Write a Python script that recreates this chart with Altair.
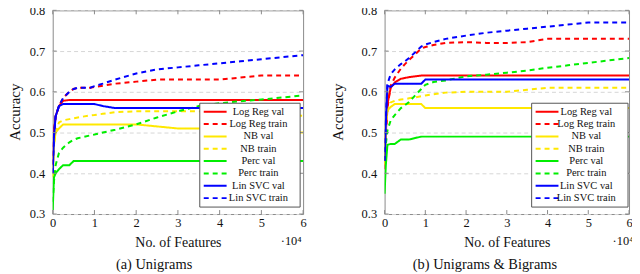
import altair as alt
import pandas as pd

# number of features (x values, shared by all series)
FEATURES = [0, 300, 700, 1500, 2500, 4000, 5000, 6000, 9000, 10000, 12000, 15000,
            20000, 25000, 30000, 35000, 40000, 45000, 50000, 55000, 60000]

SERIES = ["Log Reg val", "Log Reg train", "NB val", "NB train",
          "Perc val", "Perc train", "Lin SVC val", "Lin SVC train"]

# (a) Unigrams
UNI_LR_VAL = [0.42, 0.50, 0.54, 0.565, 0.578, 0.58, 0.58, 0.58, 0.58, 0.58, 0.58, 0.58,
              0.58, 0.58, 0.58, 0.58, 0.58, 0.58, 0.58, 0.58, 0.58]
UNI_LR_TRAIN = [0.42, 0.50, 0.54, 0.565, 0.585, 0.60, 0.607, 0.61, 0.61, 0.612, 0.615, 0.62,
                0.625, 0.63, 0.63, 0.63, 0.63, 0.635, 0.64, 0.64, 0.64]
UNI_NB_VAL = [0.39, 0.47, 0.50, 0.51, 0.52, 0.52, 0.52, 0.52, 0.52, 0.52, 0.52, 0.52,
              0.52, 0.515, 0.51, 0.51, 0.51, 0.51, 0.505, 0.50, 0.50]
UNI_NB_TRAIN = [0.39, 0.47, 0.50, 0.525, 0.53, 0.533, 0.535, 0.537, 0.542, 0.543, 0.546, 0.55,
                0.552, 0.552, 0.552, 0.552, 0.55, 0.55, 0.547, 0.543, 0.541]
UNI_PERC_VAL = [0.31, 0.39, 0.40, 0.41, 0.42, 0.42, 0.43, 0.43, 0.43, 0.43, 0.43, 0.43,
                0.43, 0.43, 0.43, 0.43, 0.43, 0.43, 0.43, 0.43, 0.43]
UNI_PERC_TRAIN = [0.33, 0.38, 0.42, 0.45, 0.463, 0.476, 0.482, 0.486, 0.493, 0.495, 0.50, 0.507,
                  0.52, 0.537, 0.552, 0.565, 0.572, 0.577, 0.581, 0.586, 0.591]
UNI_SVC_VAL = [0.40, 0.49, 0.54, 0.565, 0.57, 0.57, 0.57, 0.57, 0.57, 0.57, 0.565, 0.56,
               0.56, 0.56, 0.56, 0.56, 0.56, 0.56, 0.56, 0.56, 0.56]
UNI_SVC_TRAIN = [0.40, 0.49, 0.54, 0.565, 0.585, 0.60, 0.607, 0.61, 0.61, 0.614, 0.62, 0.63,
                 0.645, 0.655, 0.66, 0.665, 0.67, 0.675, 0.68, 0.685, 0.69]

# (b) Unigrams & Bigrams
BI_LR_VAL = [0.42, 0.50, 0.57, 0.61, 0.623, 0.632, 0.634, 0.636, 0.64, 0.64, 0.64, 0.64,
             0.64, 0.64, 0.64, 0.64, 0.64, 0.64, 0.64, 0.64, 0.64]
BI_LR_TRAIN = [0.41, 0.49, 0.56, 0.615, 0.635, 0.657, 0.668, 0.678, 0.706, 0.71, 0.715, 0.72,
               0.722, 0.72, 0.72, 0.722, 0.73, 0.73, 0.73, 0.73, 0.73]
BI_NB_VAL = [0.42, 0.53, 0.555, 0.563, 0.57, 0.57, 0.57, 0.57, 0.57, 0.56, 0.56, 0.56,
             0.56, 0.56, 0.56, 0.56, 0.56, 0.56, 0.56, 0.56, 0.56]
BI_NB_TRAIN = [0.42, 0.52, 0.55, 0.574, 0.578, 0.581, 0.582, 0.584, 0.589, 0.591, 0.594, 0.598,
               0.60, 0.60, 0.60, 0.605, 0.61, 0.61, 0.61, 0.61, 0.61]
BI_PERC_VAL = [0.35, 0.42, 0.47, 0.472, 0.472, 0.483, 0.483, 0.483, 0.49, 0.49, 0.49, 0.49,
               0.49, 0.49, 0.49, 0.49, 0.49, 0.49, 0.49, 0.49, 0.49]
BI_PERC_TRAIN = [0.43, 0.47, 0.505, 0.53, 0.543, 0.56, 0.567, 0.575, 0.607, 0.617, 0.624, 0.628,
                 0.638, 0.642, 0.647, 0.652, 0.659, 0.665, 0.671, 0.677, 0.683]
BI_SVC_VAL = [0.43, 0.52, 0.615, 0.612, 0.62, 0.62, 0.62, 0.62, 0.62, 0.63, 0.63, 0.63,
              0.63, 0.63, 0.63, 0.63, 0.63, 0.63, 0.63, 0.63, 0.63]
BI_SVC_TRAIN = [0.43, 0.53, 0.62, 0.643, 0.655, 0.668, 0.675, 0.683, 0.711, 0.716, 0.722, 0.73,
                0.738, 0.745, 0.75, 0.755, 0.76, 0.765, 0.77, 0.77, 0.77]

UNI = [UNI_LR_VAL, UNI_LR_TRAIN, UNI_NB_VAL, UNI_NB_TRAIN,
       UNI_PERC_VAL, UNI_PERC_TRAIN, UNI_SVC_VAL, UNI_SVC_TRAIN]
BI = [BI_LR_VAL, BI_LR_TRAIN, BI_NB_VAL, BI_NB_TRAIN,
      BI_PERC_VAL, BI_PERC_TRAIN, BI_SVC_VAL, BI_SVC_TRAIN]

X_TICKS = [0, 10000, 20000, 30000, 40000, 50000, 60000]
Y_TICKS = [0.3, 0.4, 0.5, 0.6, 0.7, 0.8]
CAPTIONS = ["(a) Unigrams", "(b) Unigrams & Bigrams"]
X_TITLE = "No. of Features"
Y_TITLE = "Accuracy"
POWER = "·10⁴"

COLORS = ["#ff0000", "#ff0000", "#ffe800", "#ffe800",
          "#00ee00", "#00ee00", "#0000ff", "#0000ff"]
DASHES = [[1, 0], [5, 4], [1, 0], [5, 4], [1, 0], [5, 4], [1, 0], [5, 4]]

FONT = "Liberation Serif"
FRAME = "#8a8a8a"
TXT = "#111111"
H = 205


def label(text, size, xpos, ypos, angle=0):
    return alt.Chart(pd.DataFrame({"t": [text]})).mark_text(
        font=FONT, fontSize=size, align="center", baseline="middle", color=TXT, angle=angle
    ).encode(x=alt.value(xpos), y=alt.value(ypos), text="t:N")


def panel(values, caption, W, ytitle_x, leg_x0, leg_x1, sample_x0, text_x, caption_x, power_x):
    rows = []
    for s, ys in zip(SERIES, values):
        for f, v in zip(FEATURES, ys):
            rows.append({"features": f, "acc": v, "series": s})
    df = pd.DataFrame(rows)

    color = alt.Color("series:N", scale=alt.Scale(domain=SERIES, range=COLORS), legend=None)
    dash = alt.StrokeDash("series:N", scale=alt.Scale(domain=SERIES, range=DASHES), legend=None)
    x = alt.X("features:Q", scale=alt.Scale(domain=[0, 60000], nice=False, zero=False),
              axis=alt.Axis(values=X_TICKS, labelExpr="datum.value / 10000", title=X_TITLE,
                            grid=False, ticks=False, domain=False, labelPadding=3,
                            titlePadding=6, labelFlush=False,
                            labelFont=FONT, labelFontSize=12.5, labelColor=TXT,
                            titleFont=FONT, titleFontSize=14, titleFontWeight="normal",
                            titleColor=TXT))
    y = alt.Y("acc:Q", scale=alt.Scale(domain=[0.3, 0.8], nice=False, zero=False),
              axis=alt.Axis(values=Y_TICKS, format=".1f", title=None, grid=True,
                            gridDash=[4, 3], gridColor="#d6d6d6", ticks=False, domain=False,
                            labelPadding=8,
                            labelFont=FONT, labelFontSize=12.5, labelColor=TXT))

    layers = []
    for s in SERIES:
        layers.append(
            alt.Chart(df).transform_filter(alt.datum.series == s)
            .mark_line(strokeWidth=2, clip=True)
            .encode(x=x, y=y, color=color, strokeDash=dash)
        )
    xt = pd.DataFrame({"features": X_TICKS})
    yt = pd.DataFrame({"acc": Y_TICKS})
    layers.append(alt.Chart(xt).mark_rule(color=FRAME).encode(x=x, y=alt.value(H), y2=alt.value(H - 4)))
    layers.append(alt.Chart(xt).mark_rule(color=FRAME).encode(x=x, y=alt.value(0), y2=alt.value(4)))
    layers.append(alt.Chart(yt).mark_rule(color=FRAME).encode(y=y, x=alt.value(0), x2=alt.value(4)))
    layers.append(alt.Chart(yt).mark_rule(color=FRAME).encode(y=y, x=alt.value(W - 4), x2=alt.value(W)))
    plot = alt.layer(*layers)

    leg_df = pd.DataFrame({"series": SERIES, "row": list(range(len(SERIES)))})
    ly = alt.Y("row:Q", scale=alt.Scale(domain=[0, 7], range=[102, 189]), axis=None)
    box = alt.Chart(leg_df.head(1)).mark_rect(fill="white", stroke="#555", strokeWidth=1).encode(
        x=alt.value(leg_x0), x2=alt.value(leg_x1), y=alt.value(93.5), y2=alt.value(198))
    samples = alt.Chart(leg_df).mark_rule(strokeWidth=2).encode(
        x=alt.value(sample_x0), x2=alt.value(sample_x0 + 23), y=ly, color=color, strokeDash=dash)
    texts = alt.Chart(leg_df).mark_text(font=FONT, fontSize=10.5, align="center", baseline="middle",
                                        color=TXT).encode(x=alt.value(text_x), y=ly, text="series:N")
    legend = alt.layer(box, samples, texts)

    cap = label(caption, 14.5, caption_x, 256)
    pw = label(POWER, 12.5, power_x, 232)
    ytitle = label(Y_TITLE, 15, ytitle_x, H / 2, angle=270)

    return alt.layer(plot, legend, cap, pw, ytitle).resolve_scale(y="independent").properties(
        width=W, height=H)


pa = panel(UNI, CAPTIONS[0], 252, -37.5, 148, 249, 152, 207, 102, 240)
pb = panel(BI, CAPTIONS[1], 246, -47, 148, 245, 152, 203, 101, 240)

chart = alt.hconcat(pa, pb, spacing=23).properties(
    padding={"left": 0, "top": -5.5, "right": -3, "bottom": 0}
).configure_view(stroke=FRAME, strokeWidth=1).configure_axis(
    labelFont=FONT, titleFont=FONT
)

chart.save("out.html", embed_options={"renderer": "svg", "actions": False})
